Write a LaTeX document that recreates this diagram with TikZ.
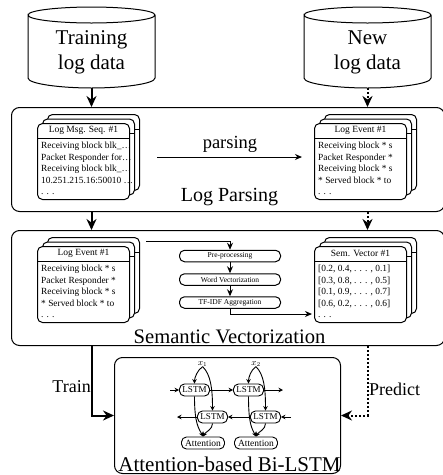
\documentclass[tikz,border=0pt]{standalone}
\usepackage{fontspec}
\setmainfont{Liberation Serif}
\usetikzlibrary{arrows.meta}
\newcommand{\fs}[1]{\fontsize{#1pt}{#1pt}\selectfont}
\tikzset{
  cyl/.style={inner sep=0pt,minimum width=127pt,minimum height=81pt},
  cyllabel/.style={inner sep=0pt,font=\fontsize{21pt}{25pt}\selectfont,align=center},
  cylline/.style={line width=1pt},
  bigbox/.style={draw,line width=1pt,rounded corners=8pt,inner sep=0pt,anchor=north west},
  cardbox/.style={draw,fill=white,line width=1pt,rounded corners=5pt,inner sep=0pt,minimum width=92pt,minimum height=76pt,anchor=north west},
  cardrule/.style={line width=1pt},
  cardtitle/.style={font=\fs{9.5},inner sep=0pt},
  cardlines/.style={font=\fontsize{9.4pt}{11.5pt}\selectfont,align=left,anchor=north west,inner sep=0pt},
  stepbox/.style={draw,line width=1pt,rounded corners=5pt,inner sep=0pt,minimum width=101pt,minimum height=11.5pt,font=\fs{7.5}},
  lstmbox/.style={draw,line width=0.9pt,rounded corners=5pt,inner sep=0pt,minimum width=30pt,minimum height=12pt,font=\fs{9}},
  attbox/.style={draw,line width=0.9pt,rounded corners=5pt,inner sep=0pt,minimum width=43pt,minimum height=12pt,font=\fs{9.5}},
  biglabel/.style={font=\fs{20.6},inner sep=0pt},
  midlabel/.style={font=\fs{18},inner sep=0pt},
  thickarrow/.style={line width=2pt,-{Stealth[length=11pt,width=10pt]}},
  thinarrow/.style={line width=1pt,-{Stealth[length=7pt,width=6pt]}},
  tinyarrow/.style={line width=0.9pt,-{Stealth[length=4.5pt,width=4.5pt]}},
  dotarrow/.style={thickarrow,dash pattern=on 2pt off 2pt},
}
\newcommand{\cylinderat}[1]{%
  % centre x of a database
  \draw[cylline] (#1-63.5,15) .. controls (#1-63.5,10) and (#1-30,7) .. (#1,7)
     .. controls (#1+30,7) and (#1+63.5,10) .. (#1+63.5,15)
     .. controls (#1+63.5,20) and (#1+30,23) .. (#1,23)
     .. controls (#1-30,23) and (#1-63.5,20) .. (#1-63.5,15)
     -- (#1-63.5,78)
     .. controls (#1-63.5,84) and (#1-30,88) .. (#1,88)
     .. controls (#1+30,88) and (#1+63.5,84) .. (#1+63.5,78)
     -- (#1+63.5,15);
}
\newcommand{\cardstack}[5]{%
  % name, x, y, title, lines
  \node[cardbox] (#1c) at (#2+10,#3-9) {};
  \draw[cardrule] ([yshift=-15pt]#1c.north west) -- ([yshift=-15pt]#1c.north east);
  \node[cardbox] (#1b) at (#2+5,#3-4.5) {};
  \draw[cardrule] ([yshift=-15pt]#1b.north west) -- ([yshift=-15pt]#1b.north east);
  \node[cardbox] (#1) at (#2,#3) {};
  \draw[cardrule] ([yshift=-15pt]#1.north west) -- ([yshift=-15pt]#1.north east);
  \node[cardtitle] (#1t) at ([yshift=-7.5pt]#1.north) {#4};
  \node[cardlines] (#1l) at ([xshift=4pt,yshift=-19pt]#1.north west) {#5};
}
\begin{document}
\begin{tikzpicture}[x=1pt,y=-1pt]
\useasboundingbox (0,0) rectangle (443,475);
% databases
\cylinderat{91.5}
\cylinderat{367.5}
\node[cyl] (train) at (91.5,47.5) {};
\node[cyl] (new) at (367.5,47.5) {};
\node[cyllabel] (trainl) at (91.5,52.5) {Training\\log data};
\node[cyllabel] (newl) at (367.5,52.5) {New\\log data};
% main boxes
\node[bigbox,minimum width=433pt,minimum height=104pt] (parse) at (11,107) {};
\node[bigbox,minimum width=433pt,minimum height=115pt] (sem) at (11,230) {};
\node[bigbox,minimum width=226pt,minimum height=116pt] (bilstm) at (114,357) {};
\draw[thickarrow] (train.south) -- (train.south |- parse.north);
\draw[dotarrow] (new.south) -- (new.south |- parse.north);
\draw[thickarrow] (train.south |- parse.south) -- (train.south |- sem.north);
\draw[dotarrow] (new.south |- parse.south) -- (new.south |- sem.north);
% log parsing
\cardstack{seq}{37}{123}{Log Msg. Seq. \#1}{Receiving block blk\_…\\Packet Responder for…\\Receiving block blk\_…\\10.251.215.16:50010 …\\. . .}
\cardstack{evA}{314}{123}{Log Event \#1}{Receiving block * s\\Packet Responder *\\Receiving block * s\\* Served block * to\\. . .}
\node[midlabel,font=\fs{18.5}] (parsingl) at (230,144) {parsing};
\coordinate (pstart) at (157,157);
\coordinate (pend) at (302,157);
\draw[thinarrow] (pstart) -- (pend);
\node[biglabel,font=\fs{20}] (lpl) at (229.5,197.5) {Log Parsing};
% semantic vectorization
\cardstack{evB}{37}{246}{Log Event \#1}{Receiving block * s\\Packet Responder *\\Receiving block * s\\* Served block * to\\. . .}
\cardstack{vec}{314}{246}{Sem. Vector \#1}{[0.2, 0.4, . . . , 0.1]\\{}[0.3, 0.8, . . . , 0.5]\\{}[0.1, 0.9, . . . , 0.7]\\{}[0.6, 0.2, . . . , 0.6]\\. . .}
\node[stepbox] (pre) at (230,256) {Pre-processing};
\node[stepbox] (wv) at (230,279.5) {Word Vectorization};
\node[stepbox] (tf) at (230,302.5) {TF-IDF Aggregation};
\coordinate (flowa) at (146,241);
\coordinate (flowb) at (230,314);
\coordinate (flowc) at (312,314);
\draw[thinarrow] (flowa) -| (pre.north);
\draw[thinarrow] (pre.south) -- (wv.north);
\draw[thinarrow] (wv.south) -- (tf.north);
\draw[thinarrow] (tf.south) -- (flowb) -- (flowc);
\node[biglabel] (svl) at (229.5,336.5) {Semantic Vectorization};
% train / predict
\draw[thickarrow] (train.south |- sem.south) -- (train.south |- bilstm.west) -- (bilstm.west);
\draw[dotarrow] (new.south |- sem.south) -- (new.south |- bilstm.east) -- (bilstm.east);
\node[midlabel,anchor=east] (trainlab) at (91,387) {Train};
\node[midlabel,anchor=west] (predlab) at (369,389) {Predict};
% bi-lstm
\node[inner sep=0pt,font=\fs{9}] (x1) at (202.7,364) {$x_1$};
\node[inner sep=0pt,font=\fs{9}] (x2) at (256,364) {$x_2$};
\node[lstmbox] (t1) at (194.5,390) {LSTM};
\node[lstmbox] (t2) at (248.5,390) {LSTM};
\node[lstmbox] (b1) at (212.5,417) {LSTM};
\node[lstmbox] (b2) at (265.5,417) {LSTM};
\node[attbox] (a1) at (203,443) {Attention};
\node[attbox] (a2) at (256,443) {Attention};
\coordinate (tin) at (170,390);
\coordinate (tout) at (283,390);
\coordinate (bin) at (291,417);
\coordinate (bout) at (177,417);
\draw[tinyarrow] (tin) -- (t1);
\draw[tinyarrow] (t1) -- (t2);
\draw[tinyarrow] (t2) -- (tout);
\draw[tinyarrow] (bin) -- (b2);
\draw[tinyarrow] (b2) -- (b1);
\draw[tinyarrow] (b1) -- (bout);
\foreach \xx/\tt/\bb/\aa in {x1/t1/b1/a1,x2/t2/b2/a2}{
  \draw[tinyarrow] (\xx.south) .. controls +(-5,3) and +(0,-6) .. (\tt.north);
  \draw[tinyarrow] (\xx.south) .. controls +(8,8) and +(0,-22) .. (\bb.north);
  \draw[tinyarrow] (\tt.south) .. controls +(0,28) and +(-4,-8) .. (\aa.north);
  \draw[tinyarrow] (\bb.south) .. controls +(0,6) and +(3,-5) .. (\aa.north);
}
\node[biglabel,font=\fs{21}] (bil) at (229.5,464) {Attention-based Bi-LSTM};
\end{tikzpicture}
\end{document}
